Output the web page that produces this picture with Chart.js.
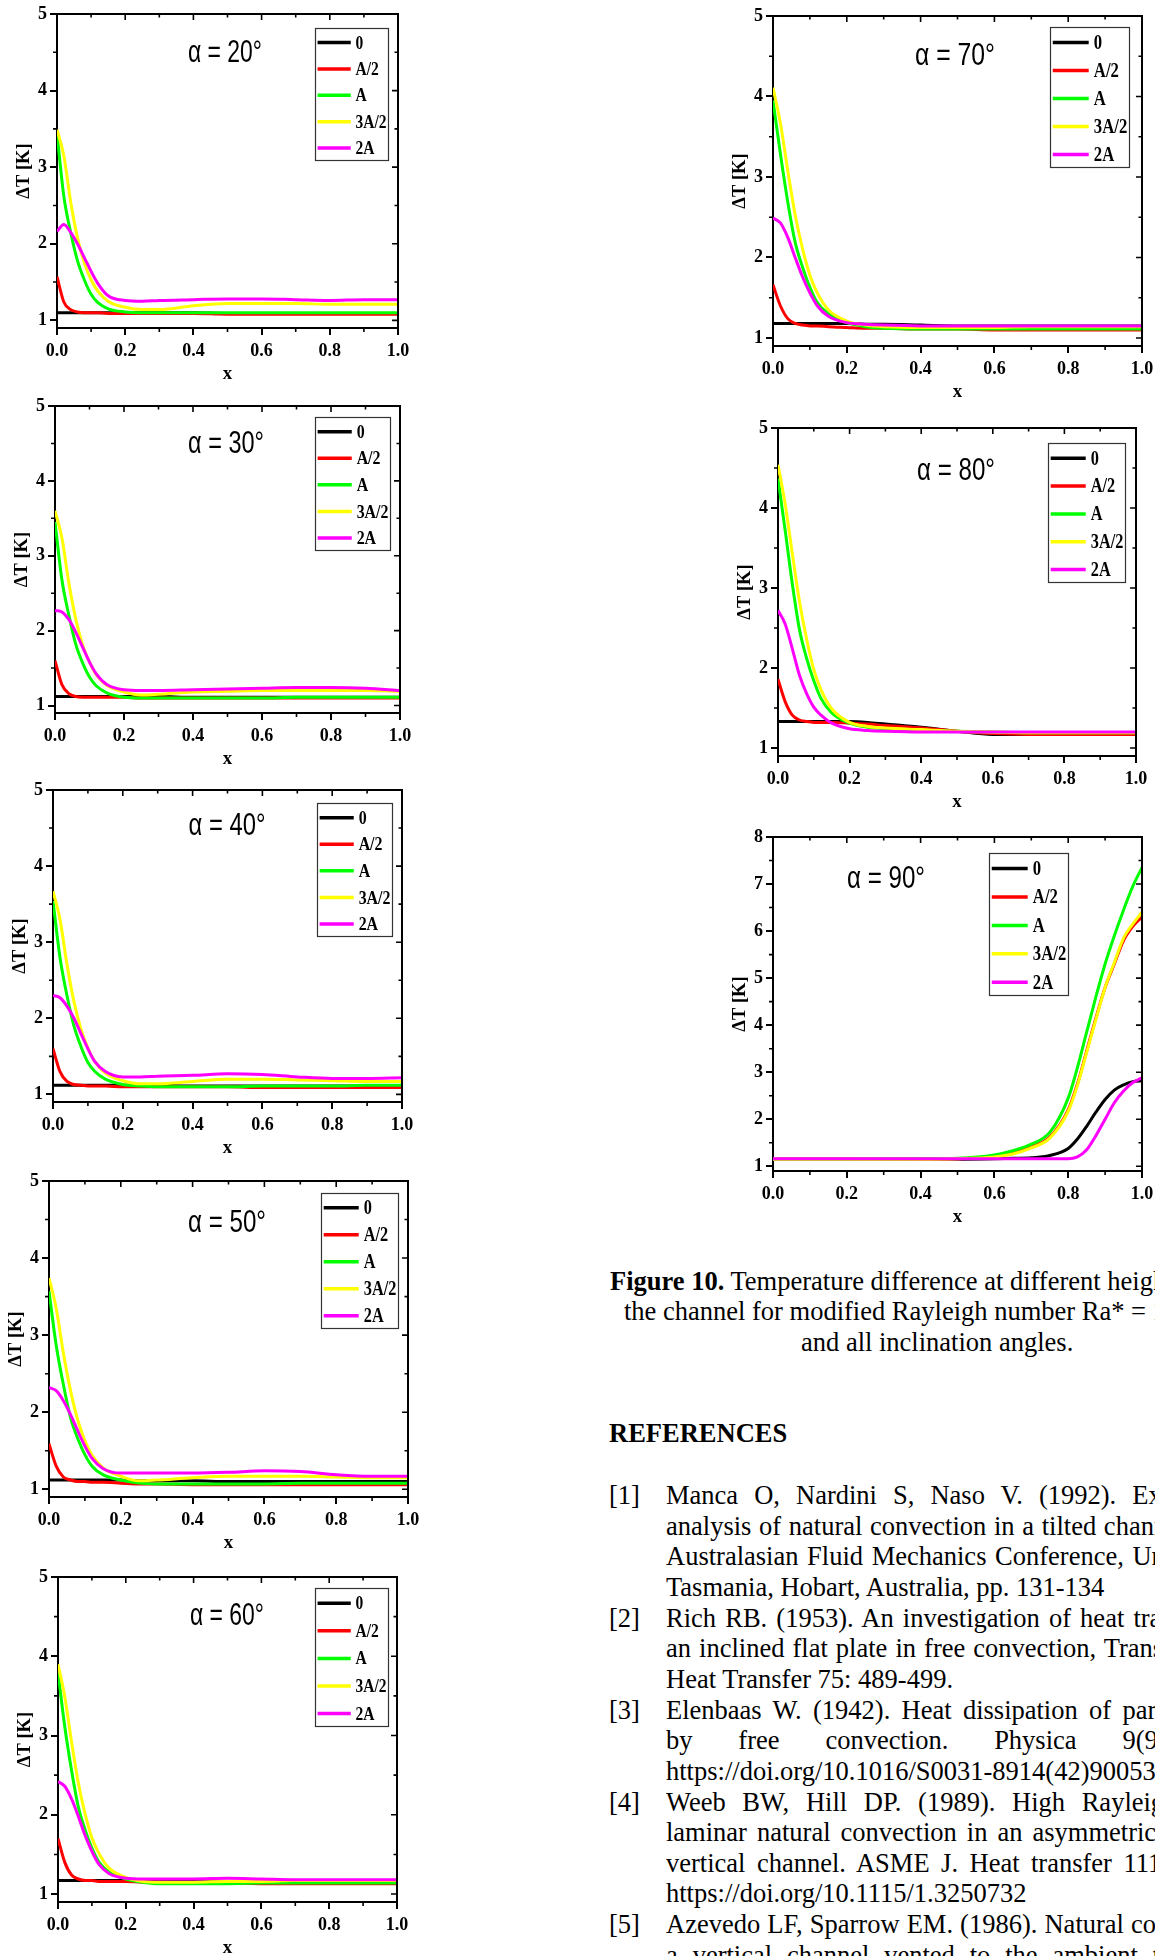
<!DOCTYPE html>
<html><head><meta charset="utf-8">
<script src="https://cdn.jsdelivr.net/npm/chart.js@4.4.1/dist/chart.umd.min.js"></script>
<style>
html,body{margin:0;padding:0;background:#fff;}
body{width:1155px;height:1956px;overflow:hidden;position:relative;font-family:"Liberation Serif","Times New Roman",serif;color:#000;}
canvas{position:absolute;}
.t{position:absolute;font-size:26.5px;line-height:30.65px;white-space:nowrap;}
.j{position:absolute;width:609px;font-size:26.5px;line-height:30.65px;height:30.65px;overflow:hidden;text-align:justify;text-align-last:justify;}
</style></head><body>
<script>
// ---------------- data ----------------
const XS  = [0,0.02,0.04,0.06,0.08,0.1,0.12,0.15,0.2,0.25,0.3,0.4,0.5,0.6,0.7,0.8,0.9,1.0];
const X90 = [0,0.2,0.4,0.5,0.6,0.65,0.7,0.75,0.8,0.825,0.85,0.875,0.9,0.925,0.95,0.975,1.0];
const SERIES_LABELS = ['0','A/2','A','3A/2','2A'];
const SERIES_COLORS = ['#000000','#ff0000','#00ff00','#ffff00','#ff00ff'];
const ANGLES = [20,30,40,50,60,70,80,90];
const X_TICKS = [0,0.2,0.4,0.6,0.8,1.0];
const Y_TICKS = [1,2,3,4,5];
const Y_TICKS_90 = [1,2,3,4,5,6,7,8];

const D20_0   = [1.10,1.10,1.10,1.10,1.10,1.10,1.10,1.10,1.10,1.10,1.10,1.10,1.09,1.09,1.09,1.09,1.09,1.09];
const D20_A2  = [1.57,1.24,1.14,1.11,1.10,1.10,1.10,1.09,1.09,1.09,1.09,1.09,1.08,1.08,1.08,1.08,1.08,1.08];
const D20_A   = [3.44,2.62,2.15,1.78,1.53,1.34,1.23,1.15,1.11,1.10,1.10,1.10,1.10,1.10,1.10,1.10,1.10,1.10];
const D20_3A2 = [3.49,3.15,2.55,2.08,1.75,1.53,1.38,1.25,1.17,1.14,1.14,1.19,1.22,1.22,1.22,1.21,1.21,1.21];
const D20_2A  = [2.16,2.25,2.15,2.00,1.82,1.64,1.48,1.32,1.26,1.25,1.26,1.27,1.28,1.28,1.27,1.26,1.27,1.27];

const D30_0   = [1.12,1.12,1.12,1.12,1.12,1.12,1.12,1.12,1.12,1.12,1.12,1.11,1.11,1.11,1.11,1.11,1.11,1.11];
const D30_A2  = [1.60,1.28,1.16,1.12,1.11,1.11,1.11,1.11,1.11,1.10,1.10,1.10,1.10,1.10,1.10,1.10,1.10,1.10];
const D30_A   = [3.45,2.68,2.21,1.82,1.57,1.38,1.26,1.17,1.11,1.10,1.10,1.10,1.10,1.10,1.11,1.11,1.11,1.11];
const D30_3A2 = [3.60,3.24,2.64,2.16,1.81,1.58,1.41,1.27,1.18,1.14,1.15,1.18,1.19,1.20,1.20,1.20,1.20,1.19];
const D30_2A  = [2.27,2.25,2.15,1.98,1.78,1.58,1.42,1.28,1.21,1.20,1.20,1.21,1.22,1.23,1.24,1.24,1.23,1.20];

const D40_0   = [1.12,1.12,1.12,1.12,1.12,1.12,1.12,1.12,1.12,1.12,1.12,1.11,1.11,1.11,1.11,1.11,1.11,1.11];
const D40_A2  = [1.60,1.30,1.17,1.13,1.12,1.11,1.11,1.11,1.10,1.10,1.10,1.10,1.10,1.09,1.09,1.09,1.09,1.09];
const D40_A   = [3.54,2.80,2.30,1.90,1.63,1.42,1.30,1.20,1.13,1.11,1.10,1.10,1.10,1.11,1.11,1.11,1.12,1.12];
const D40_3A2 = [3.67,3.30,2.71,2.22,1.86,1.61,1.43,1.28,1.18,1.14,1.14,1.17,1.20,1.20,1.19,1.18,1.17,1.17];
const D40_2A  = [2.30,2.27,2.16,2.00,1.80,1.60,1.43,1.30,1.23,1.23,1.24,1.25,1.27,1.26,1.23,1.21,1.21,1.22];

const D50_0   = [1.12,1.12,1.12,1.12,1.12,1.12,1.12,1.12,1.12,1.11,1.11,1.11,1.10,1.10,1.10,1.10,1.10,1.10];
const D50_A2  = [1.59,1.30,1.16,1.12,1.10,1.10,1.09,1.09,1.08,1.07,1.07,1.06,1.06,1.06,1.06,1.06,1.06,1.06];
const D50_A   = [3.57,2.87,2.36,1.93,1.66,1.45,1.30,1.19,1.12,1.08,1.07,1.07,1.07,1.07,1.08,1.08,1.08,1.08];
const D50_3A2 = [3.74,3.35,2.77,2.28,1.90,1.63,1.44,1.28,1.17,1.11,1.12,1.15,1.17,1.17,1.17,1.16,1.15,1.15];
const D50_2A  = [2.32,2.28,2.15,1.97,1.76,1.56,1.40,1.27,1.21,1.21,1.21,1.21,1.22,1.24,1.23,1.19,1.17,1.17];

const D60_0   = [1.17,1.17,1.17,1.17,1.17,1.17,1.17,1.17,1.17,1.16,1.16,1.16,1.15,1.15,1.15,1.15,1.15,1.15];
const D60_A2  = [1.70,1.40,1.24,1.19,1.17,1.17,1.16,1.16,1.16,1.15,1.15,1.14,1.14,1.13,1.13,1.13,1.13,1.13];
const D60_A   = [3.80,3.11,2.56,2.10,1.81,1.58,1.41,1.28,1.19,1.15,1.13,1.13,1.13,1.14,1.14,1.14,1.14,1.14];
const D60_3A2 = [3.90,3.49,2.92,2.40,2.01,1.71,1.52,1.33,1.21,1.16,1.15,1.15,1.16,1.16,1.17,1.17,1.17,1.17];
const D60_2A  = [2.42,2.36,2.20,1.98,1.74,1.54,1.38,1.26,1.20,1.19,1.19,1.19,1.20,1.19,1.18,1.18,1.18,1.18];

const D70_0   = [1.18,1.18,1.18,1.18,1.18,1.18,1.18,1.18,1.18,1.17,1.17,1.16,1.15,1.15,1.15,1.15,1.15,1.15];
const D70_A2  = [1.66,1.40,1.24,1.18,1.16,1.15,1.15,1.14,1.13,1.12,1.12,1.11,1.11,1.10,1.10,1.10,1.10,1.10];
const D70_A   = [3.95,3.29,2.69,2.19,1.88,1.63,1.44,1.30,1.19,1.14,1.12,1.11,1.11,1.11,1.11,1.11,1.11,1.11];
const D70_3A2 = [4.11,3.67,3.08,2.53,2.11,1.78,1.56,1.35,1.21,1.16,1.14,1.13,1.13,1.13,1.14,1.14,1.14,1.14];
const D70_2A  = [2.49,2.43,2.25,2.00,1.76,1.56,1.40,1.27,1.19,1.17,1.16,1.15,1.15,1.15,1.15,1.15,1.15,1.15];

const D80_0   = [1.33,1.33,1.33,1.33,1.33,1.33,1.33,1.33,1.33,1.32,1.30,1.26,1.21,1.17,1.17,1.17,1.17,1.17];
const D80_A2  = [1.86,1.58,1.41,1.35,1.33,1.32,1.32,1.32,1.31,1.30,1.28,1.25,1.21,1.18,1.17,1.17,1.17,1.17];
const D80_A   = [4.37,3.72,3.05,2.48,2.12,1.84,1.62,1.44,1.31,1.26,1.24,1.22,1.21,1.20,1.19,1.19,1.19,1.19];
const D80_3A2 = [4.54,4.05,3.43,2.83,2.36,1.98,1.73,1.49,1.32,1.27,1.25,1.23,1.21,1.20,1.19,1.19,1.19,1.19];
const D80_2A  = [2.72,2.55,2.24,1.91,1.68,1.51,1.41,1.31,1.24,1.22,1.21,1.20,1.20,1.20,1.20,1.20,1.20,1.20];

const D90_0   = [1.15,1.15,1.15,1.15,1.16,1.17,1.18,1.23,1.38,1.58,1.85,2.15,2.42,2.62,2.73,2.80,2.82];
const D90_A2  = [1.15,1.15,1.15,1.16,1.21,1.28,1.41,1.62,2.20,2.75,3.45,4.15,4.80,5.30,5.80,6.10,6.30];
const D90_A   = [1.15,1.15,1.16,1.17,1.24,1.33,1.47,1.72,2.45,3.10,3.85,4.60,5.30,5.90,6.45,6.95,7.35];
const D90_3A2 = [1.15,1.15,1.15,1.16,1.20,1.26,1.39,1.60,2.17,2.72,3.42,4.12,4.80,5.33,5.85,6.15,6.40];
const D90_2A  = [1.16,1.16,1.16,1.16,1.16,1.16,1.16,1.16,1.16,1.20,1.35,1.65,2.00,2.35,2.60,2.78,2.88];

// ---------------- layout (page positions, styles) ----------------
const PANELS = [
  {xs:XS,  series:[D20_0,D20_A2,D20_A,D20_3A2,D20_2A], yt:Y_TICKS,    ymin:0.9, ymax:5, L:57, R:398, T:14,   B:328,  leg:[315,28,73,132],   title:[225,52],   tw:74},
  {xs:XS,  series:[D30_0,D30_A2,D30_A,D30_3A2,D30_2A], yt:Y_TICKS,    ymin:0.9, ymax:5, L:55, R:400, T:406,  B:713,  leg:[315,417,75,133],  title:[226,443],  tw:76},
  {xs:XS,  series:[D40_0,D40_A2,D40_A,D40_3A2,D40_2A], yt:Y_TICKS,    ymin:0.9, ymax:5, L:53, R:402, T:790,  B:1102, leg:[317,803,75,133],  title:[227,825],  tw:77},
  {xs:XS,  series:[D50_0,D50_A2,D50_A,D50_3A2,D50_2A], yt:Y_TICKS,    ymin:0.9, ymax:5, L:49, R:408, T:1181, B:1497, leg:[321,1193,77,135], title:[227,1222], tw:78},
  {xs:XS,  series:[D60_0,D60_A2,D60_A,D60_3A2,D60_2A], yt:Y_TICKS,    ymin:0.9, ymax:5, L:58, R:397, T:1577, B:1902, leg:[315,1588,73,138], title:[227,1615], tw:74},
  {xs:XS,  series:[D70_0,D70_A2,D70_A,D70_3A2,D70_2A], yt:Y_TICKS,    ymin:0.9, ymax:5, L:773,R:1142,T:16,   B:346,  leg:[1050,27,79,140], title:[955,55],   tw:80},
  {xs:XS,  series:[D80_0,D80_A2,D80_A,D80_3A2,D80_2A], yt:Y_TICKS,    ymin:0.9, ymax:5, L:778,R:1136,T:428,  B:756,  leg:[1048,443,77,139],title:[956,470],  tw:78},
  {xs:X90, series:[D90_0,D90_A2,D90_A,D90_3A2,D90_2A], yt:Y_TICKS_90, ymin:0.9, ymax:8, L:773,R:1142,T:837,  B:1171, leg:[989,853,79,142], title:[886,878],  tw:78}
];

const SERIF = '"Liberation Serif","Times New Roman",serif';
Chart.defaults.font.family = SERIF;
Chart.defaults.color = '#000';

function makePanelPlugin(p, idx) {
  return {
    id: 'panel' + idx,
    afterDatasetsDraw(chart) {
      const ctx = chart.ctx, a = chart.chartArea;
      const xs = chart.scales.x, ys = chart.scales.y;
      const ox = a.left - p.L, oy = a.top - p.T;
      ctx.save();
      // frame top/right
      ctx.strokeStyle = '#000'; ctx.lineWidth = 2; ctx.lineCap = 'butt';
      ctx.beginPath();
      ctx.moveTo(a.left, a.top); ctx.lineTo(a.right, a.top); ctx.lineTo(a.right, a.bottom);
      ctx.stroke();
      // minor / inward ticks
      ctx.lineWidth = 1.6;
      ctx.beginPath();
      for (let i = 0; i <= 10; i++) {
        const px = xs.getPixelForValue(i / 10); const major = i % 2 === 0;
        ctx.moveTo(px, a.top); ctx.lineTo(px, a.top + (major ? 6 : 3.5));
        if (!major) { ctx.moveTo(px, a.bottom); ctx.lineTo(px, a.bottom + 4); }
      }
      const y0 = p.yt[0], y1 = p.yt[p.yt.length - 1];
      for (let k = 0; y0 + k * 0.5 <= y1 + 1e-9; k++) {
        const v = y0 + k * 0.5; const py = ys.getPixelForValue(v); const major = k % 2 === 0;
        ctx.moveTo(a.right, py); ctx.lineTo(a.right - (major ? 6 : 3.5), py);
        if (!major) { ctx.moveTo(a.left, py); ctx.lineTo(a.left - 4, py); }
      }
      ctx.stroke();
      // panel title
      const txt = 'α = ' + ANGLES[idx] + '°';
      ctx.font = '31px "Liberation Sans Narrow","Liberation Sans",Arial,sans-serif';
      ctx.fillStyle = '#000'; ctx.textAlign = 'center'; ctx.textBaseline = 'middle';
      const w = ctx.measureText(txt).width;
      ctx.save();
      ctx.translate(p.title[0] + ox, p.title[1] + oy + 1);
      ctx.scale(p.tw / w, 1);
      ctx.fillText(txt, 0, 0);
      ctx.restore();
      // legend
      const bx = p.leg[0] + ox, by = p.leg[1] + oy, bw = p.leg[2], bh = p.leg[3];
      ctx.fillStyle = '#fff'; ctx.fillRect(bx, by, bw, bh);
      ctx.strokeStyle = '#333'; ctx.lineWidth = 1.2; ctx.strokeRect(bx + 0.5, by + 0.5, bw, bh);
      ctx.font = 'bold ' + (bw * 0.212).toFixed(1) + 'px ' + SERIF;
      ctx.textAlign = 'left'; ctx.textBaseline = 'middle';
      chart.data.datasets.forEach((ds, i) => {
        const ry = by + bh * (0.11 + 0.2 * i);
        ctx.strokeStyle = ds.borderColor; ctx.lineWidth = 3.5;
        ctx.beginPath(); ctx.moveTo(bx + bw * 0.035, ry); ctx.lineTo(bx + bw * 0.49, ry); ctx.stroke();
        ctx.save();
        ctx.translate(bx + bw * 0.555, ry + 1);
        ctx.scale(1, 1.25);
        ctx.fillStyle = '#000'; ctx.fillText(ds.label, 0, 0);
        ctx.restore();
      });
      ctx.restore();
    }
  };
}

const tickFont = {family: SERIF, size: 18, weight: 'bold'};
PANELS.forEach((p, idx) => {
  const cv = document.createElement('canvas');
  const W = p.R - p.L + 84, H = p.B - p.T + 76;
  cv.width = W; cv.height = H;
  cv.style.left = (p.L - 60) + 'px'; cv.style.top = (p.T - 14) + 'px';
  cv.style.width = W + 'px'; cv.style.height = H + 'px';
  document.body.appendChild(cv);
  new Chart(cv, {
    type: 'line',
    data: {
      datasets: p.series.map((arr, i) => ({
        label: SERIES_LABELS[i],
        data: arr.map((v, k) => ({x: p.xs[k], y: v})),
        borderColor: SERIES_COLORS[i], backgroundColor: SERIES_COLORS[i],
        borderWidth: 3, pointRadius: 0, fill: false,
        cubicInterpolationMode: 'monotone', order: 4 - i
      }))
    },
    options: {
      responsive: false, animation: false, devicePixelRatio: 1,
      layout: {padding: {top: 14, right: 24, bottom: 0, left: 0}},
      plugins: {legend: {display: false}, tooltip: {enabled: false}},
      scales: {
        x: {
          type: 'linear', min: 0, max: 1,
          afterBuildTicks: s => { s.ticks = X_TICKS.map(v => ({value: v})); },
          afterFit: s => { s.height = 62; },
          ticks: {font: tickFont, color: '#000', padding: 6, maxRotation: 0, autoSkip: false, callback: v => Number(v).toFixed(1)},
          grid: {display: true, drawOnChartArea: false, drawTicks: true, tickLength: 7, color: '#000', lineWidth: 2},
          border: {display: true, color: '#000', width: 2},
          title: {display: true, text: 'x', color: '#000', font: {family: SERIF, size: 19, weight: 'bold'}, padding: {top: 0, bottom: 5}}
        },
        y: {
          type: 'linear', min: p.ymin, max: p.ymax,
          afterBuildTicks: s => { s.ticks = p.yt.map(v => ({value: v})); },
          afterFit: s => { s.width = 60; },
          ticks: {font: tickFont, color: '#000', padding: 3, autoSkip: false, callback: v => String(v)},
          grid: {display: true, drawOnChartArea: false, drawTicks: true, tickLength: 7, color: '#000', lineWidth: 2},
          border: {display: true, color: '#000', width: 2},
          title: {display: true, text: 'ΔT [K]', color: '#000', font: {family: SERIF, size: 18.5, weight: 'bold'}, padding: {top: 16, bottom: 0}}
        }
      }
    },
    plugins: [makePanelPlugin(p, idx)]
  });
});

// ---------------- text ----------------
function addText(cls, left, top, html, extra) {
  const d = document.createElement('div');
  d.className = cls; d.style.left = left + 'px'; d.style.top = top + 'px';
  if (extra) d.style.cssText += extra;
  d.innerHTML = html;
  document.body.appendChild(d);
}
addText('t', 610, 1265.5, '<b>Figure 10.</b> Temperature difference at different heights of');
addText('t', 624, 1296.2, 'the channel for modified Rayleigh number Ra* = 10⁷');
addText('t', 801, 1326.8, 'and all inclination angles.');
addText('t', 609, 1417.5, 'REFERENCES', 'font-weight:bold;');

const REF_LINES = [
  ['[1]', 'Manca O, Nardini S, Naso V. (1992). Experimental', true],
  ['', 'analysis of natural convection in a tilted channel, in 11th', true],
  ['', 'Australasian Fluid Mechanics Conference, University of', true],
  ['', 'Tasmania, Hobart, Australia, pp. 131-134', false],
  ['[2]', 'Rich RB. (1953). An investigation of heat transfer from', true],
  ['', 'an inclined flat plate in free convection, Trans. ASME J.', true],
  ['', 'Heat Transfer 75: 489-499.', false],
  ['[3]', 'Elenbaas W. (1942). Heat dissipation of parallel plates', true],
  ['', 'by free convection. Physica 9(9): 1-28.', true],
  ['', 'https://doi.org/10.1016/S0031-8914(42)90053-3', false],
  ['[4]', 'Weeb BW, Hill DP. (1989). High Rayleigh number', true],
  ['', 'laminar natural convection in an asymmetrically heated', true],
  ['', 'vertical channel. ASME J. Heat transfer 111: 908-915.', true],
  ['', 'https://doi.org/10.1115/1.3250732', false],
  ['[5]', 'Azevedo LF, Sparrow EM. (1986). Natural convection in', true],
  ['', 'a vertical channel vented to the ambient through an', true]
];
REF_LINES.forEach((r, k) => {
  const top = 1480 + 30.65 * k;
  if (r[0]) addText('t', 609, top, r[0]);
  addText(r[2] ? 'j' : 't', 666, top, r[1]);
});
</script>
</body></html>
